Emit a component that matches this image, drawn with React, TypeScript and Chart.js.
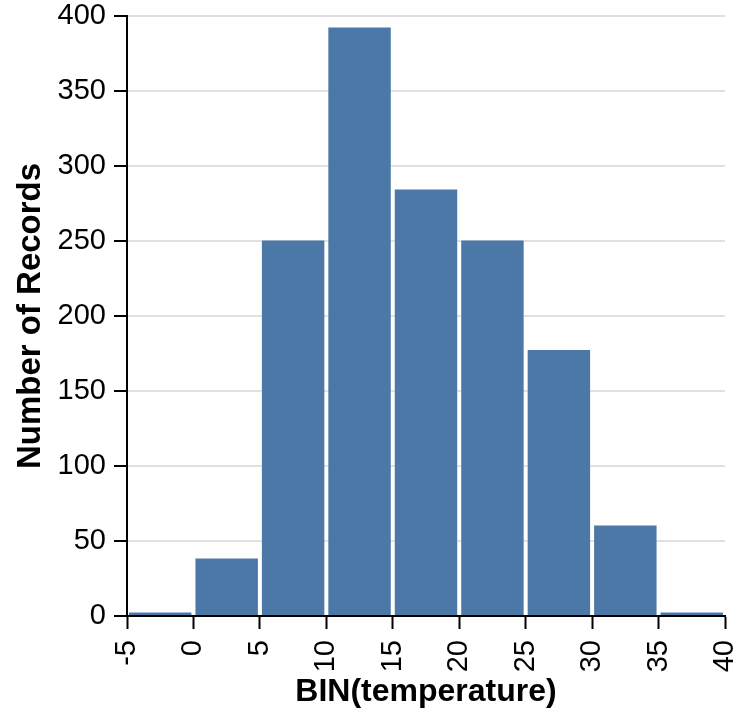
import React, { useEffect, useRef } from "react";
import { Chart, registerables } from "chart.js";

Chart.register(...registerables);

const binStarts = [-5, 0, 5, 10, 15, 20, 25, 30, 35];
const binWidth = 5;
const counts = [3, 39, 251, 393, 285, 251, 178, 61, 3];
const xTitle = "BIN(temperature)";
const yTitle = "Number of Records";

const FONT = "Helvetica, 'Liberation Sans', Arial, sans-serif";

export default function App() {
  const ref = useRef<HTMLCanvasElement | null>(null);

  useEffect(() => {
    const canvas = ref.current;
    if (!canvas) return;
    const data = binStarts.map((s, i) => ({ x: s + binWidth / 2, y: counts[i] }));
    const chart = new Chart(canvas, {
      type: "bar",
      data: {
        datasets: [
          {
            data: data as any,
            backgroundColor: "#4c78a8",
            borderColor: "rgba(255,255,255,0.35)",
            borderWidth: 1,
            barPercentage: 0.97,
            categoryPercentage: 1,
          },
        ],
      },
      options: {
        animation: false,
        responsive: false,
        devicePixelRatio: 1,
        layout: { padding: { top: 16, right: 19, bottom: 0, left: 0 } },
        plugins: { legend: { display: false }, tooltip: { enabled: false } },
        scales: {
          x: {
            type: "linear",
            min: -5,
            max: 40,
            offset: false,
            grid: {
              offset: false,
              drawOnChartArea: false,
              drawTicks: true,
              tickLength: 13,
              tickColor: "#000",
              tickWidth: 2,
            },
            border: { color: "#000", width: 2 },
            ticks: {
              stepSize: 5,
              minRotation: 90,
              maxRotation: 90,
              padding: 11,
              color: "#000",
              font: { family: FONT, size: 29 },
            },
            title: {
              display: true,
              text: xTitle,
              color: "#000",
              font: { family: FONT, size: 32, weight: "bold" },
              padding: { top: 0, bottom: 6 },
            },
            afterFit: (scale: any) => {
              scale.height = 101;
              scale.paddingLeft = 0;
              scale.paddingRight = 0;
            },
          },
          y: {
            min: 0,
            max: 400,
            grid: {
              color: "#e0e0e0",
              lineWidth: 2,
              drawTicks: true,
              tickLength: 13,
              tickColor: "#000",
              tickWidth: 2,
            },
            border: { color: "#000", width: 2 },
            ticks: {
              stepSize: 50,
              padding: 8,
              color: "#000",
              font: { family: FONT, size: 29 },
            },
            title: {
              display: true,
              text: yTitle,
              color: "#000",
              font: { family: FONT, size: 33, weight: "bold" },
              padding: { top: 11, bottom: 0 },
            },
            afterFit: (scale: any) => {
              scale.width = 127;
              scale.paddingTop = 0;
              scale.paddingBottom = 0;
            },
          },
        },
      },
    });
    return () => chart.destroy();
  }, []);

  return (
    <div style={{ position: "absolute", left: 0, top: 0, width: 744, height: 717, background: "#fff" }}>
      <canvas ref={ref} width={744} height={717} style={{ display: "block", width: 744, height: 717 }} />
    </div>
  );
}
